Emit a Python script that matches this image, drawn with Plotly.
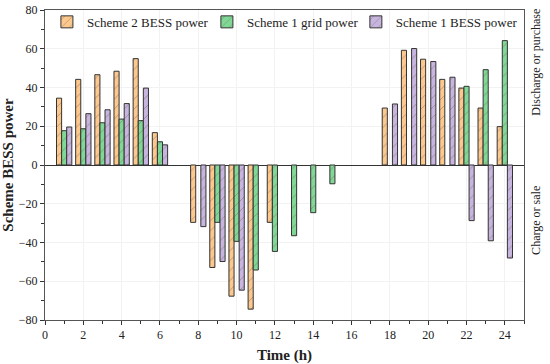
import plotly.graph_objects as go

hours = list(range(1, 25))

scheme2_bess = [34.5, 44.2, 46.6, 48.4, 54.9, 16.7, None, -29.6, -52.9, -67.7, -74.4, -29.6,
                None, None, None, None, None, 29.4, 59.2, 54.6, 44.2, 39.7, 29.4, 19.8]
scheme1_grid = [17.7, 18.7, 21.8, 23.7, 22.9, 12.0, None, None, -29.6, -39.4, -54.2, -44.6,
                -36.5, -24.6, -9.7, None, None, None, None, None, None, 40.6, 49.2, 64.2]
scheme1_bess = [19.6, 26.5, 28.5, 31.7, 39.7, 10.4, None, -31.8, -49.8, -64.6, None, None,
                None, None, None, None, None, 31.5, 60.1, 53.4, 45.3, -28.7, -39.1, -48.0]

series = [
    ("Scheme 2 BESS power", scheme2_bess, "#FDC88E", "legend"),
    ("Scheme 1 grid power", scheme1_grid, "#80D896", "legend2"),
    ("Scheme 1 BESS power", scheme1_bess, "#C7B5DF", "legend3"),
]

FONT = "Liberation Serif"

fig = go.Figure()
for name, vals, col, lg in series:
    fig.add_trace(go.Bar(
        x=hours, y=vals, name=name, legend=lg,
        marker=dict(color=col,
                    line=dict(color="#333333", width=1),
                    pattern=dict(shape="/", fgcolor="#6b5a4a", size=7, solidity=0.12)),
    ))

legend_common = dict(orientation="h", y=1.01, xanchor="left", yanchor="top",
                     font=dict(size=13, family=FONT), bgcolor="rgba(0,0,0,0)",
                     itemwidth=30)

fig.update_layout(
    width=550, height=364,
    margin=dict(l=45, r=26, t=10, b=44, autoexpand=False),
    paper_bgcolor="white", plot_bgcolor="white",
    barmode="group", bargap=0.2, bargroupgap=0,
    font=dict(family=FONT, size=12, color="#222222"),
    legend=dict(x=0.004, **legend_common),
    legend2=dict(x=0.338, **legend_common),
    legend3=dict(x=0.649, **legend_common),
    showlegend=True,
)

fig.update_xaxes(
    automargin=False,
    range=[0, 25], tick0=0, dtick=2, ticks="outside", ticklen=4, tickcolor="#333",
    minor=dict(dtick=1, ticks="outside", ticklen=3, tickcolor="#333", showgrid=False),
    showline=True, linecolor="#555", linewidth=1, mirror=True,
    showgrid=True, gridcolor="#f2f2f2", zeroline=False,
    tickfont=dict(size=12, family=FONT),
    title=dict(text="<b>Time (h)</b>", font=dict(size=15, family=FONT), standoff=8),
)
fig.update_yaxes(
    automargin=False,
    range=[-80, 80], tick0=-80, dtick=20, ticks="outside", ticklen=4, tickcolor="#333",
    minor=dict(dtick=10, ticks="outside", ticklen=3, tickcolor="#333", showgrid=False),
    showline=True, linecolor="#555", linewidth=1, mirror=True,
    showgrid=True, gridcolor="#f2f2f2",
    zeroline=True, zerolinecolor="#333", zerolinewidth=1,
    tickfont=dict(size=12, family=FONT),
    title=dict(text="<b>Scheme BESS power</b>", font=dict(size=15, family=FONT), standoff=4),
)

fig.add_annotation(text="Discharge or purchase", xref="paper", yref="paper",
                   x=1.044, y=0.83, yanchor="middle",
                   textangle=-90, showarrow=False,
                   font=dict(size=12, family=FONT, color="#222"))
fig.add_annotation(text="Charge or sale", xref="paper", yref="paper",
                   x=1.044, y=0.32, yanchor="middle",
                   textangle=-90, showarrow=False,
                   font=dict(size=12, family=FONT, color="#222"))

fig.write_html("out.html", config={"displayModeBar": False},
               post_script="document.body.style.margin='0';")
